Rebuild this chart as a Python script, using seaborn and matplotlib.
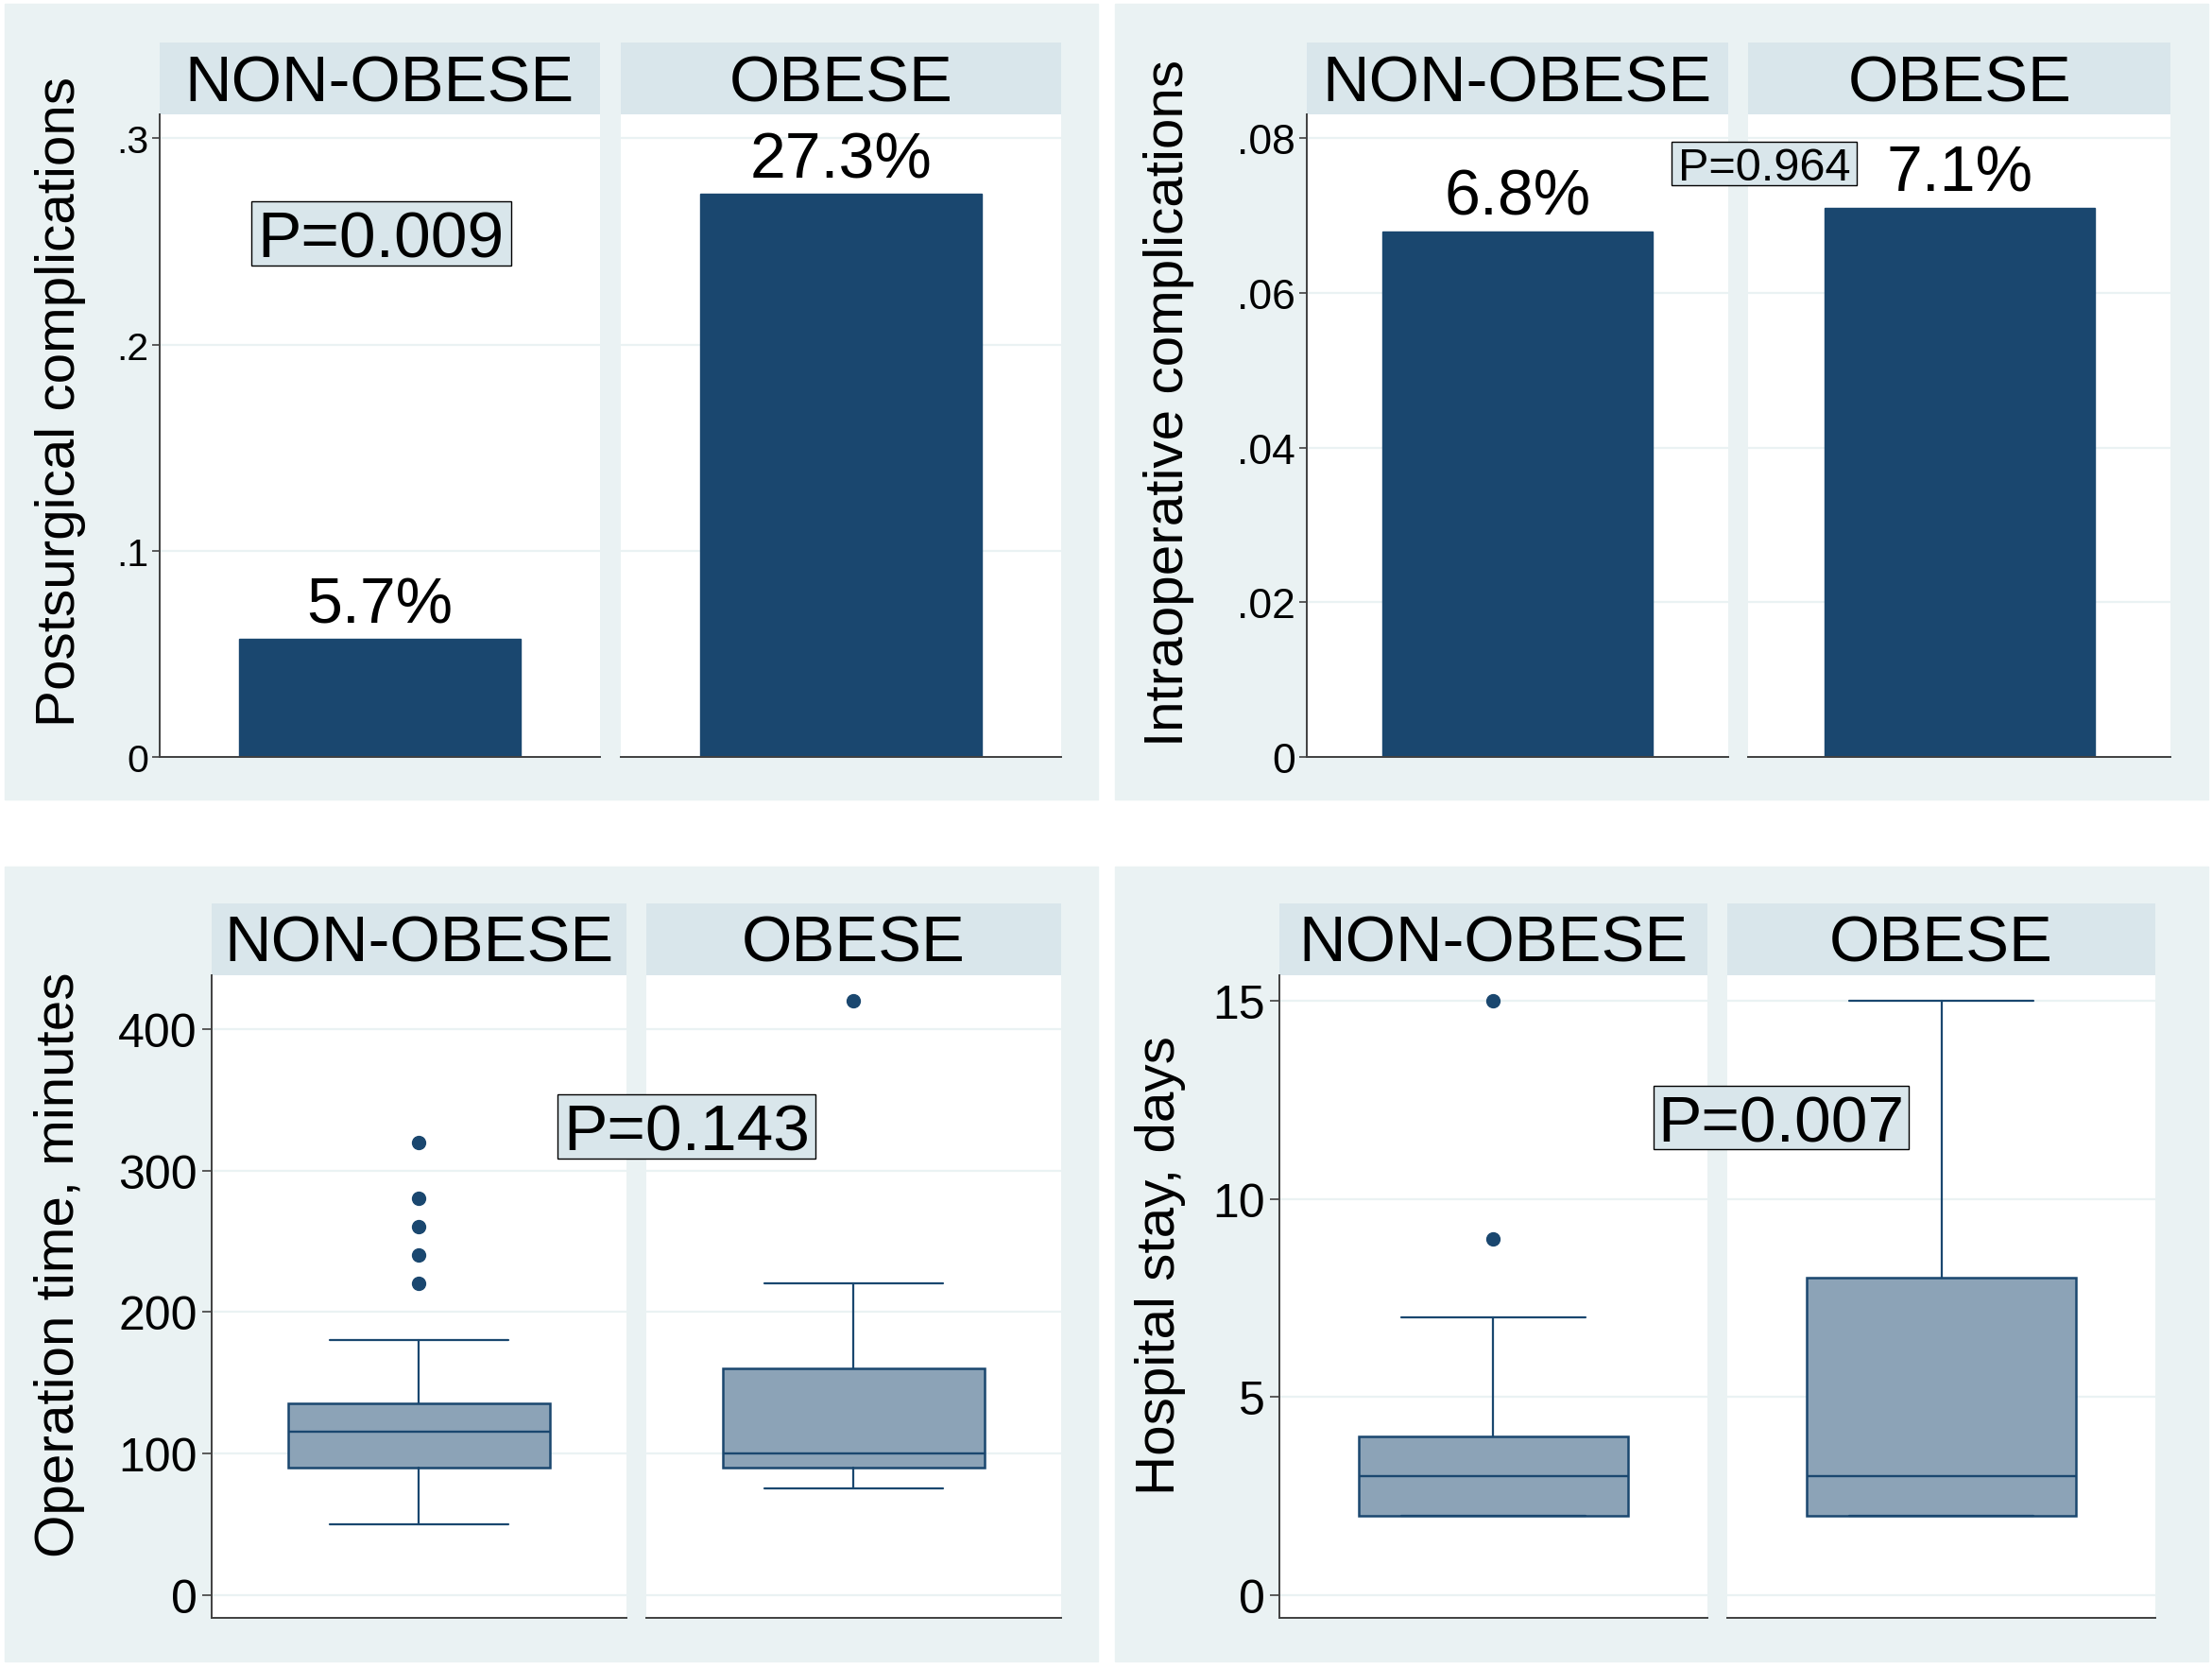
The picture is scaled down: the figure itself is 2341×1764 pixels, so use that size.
import matplotlib
matplotlib.use("Agg")
import matplotlib.pyplot as plt
import seaborn as sns
from matplotlib.patches import Rectangle
from matplotlib.ticker import FuncFormatter

# ---------------- data ----------------
groups = ["NON-OBESE", "OBESE"]

postsurg = [0.057, 0.273]
intraop = [0.068, 0.071]

# operation time (minutes): box plot summaries
op_q1 = [90, 90]
op_med = [115, 100]
op_q3 = [135, 160]
op_lo = [50, 75]
op_hi = [180, 220]
op_out = [[220, 240, 260, 280, 320], [420]]

# hospital stay (days)
hs_q1 = [2, 2]
hs_med = [3, 3]
hs_q3 = [4, 8]
hs_lo = [2, 2]
hs_hi = [7, 15]
hs_out = [[9, 15], []]

p_values = ["P=0.009", "P=0.964", "P=0.143", "P=0.007"]
ylabels = ["Postsurgical complications", "Intraoperative complications",
           "Operation time, minutes", "Hospital stay, days"]
ticks_post = [0, .1, .2, .3]
ticks_intra = [0, .02, .04, .06, .08]
ticks_op = [0, 100, 200, 300, 400]
ticks_hs = [0, 5, 10, 15]

# ---------------- style ----------------
navy = "#1A476F"
boxfill = "#8CA3B7"
bg = "#EAF2F3"
strip_col = "#D9E6EB"
grid_col = "#EAF2F3"

sns.set_style("white")
plt.rcParams['font.family'] = ['Liberation Sans', 'DejaVu Sans']
plt.rcParams['text.color'] = 'black'
plt.rcParams['ytick.labelcolor'] = 'black'

W, H = 2341, 1765
fig = plt.figure(figsize=(W / 100, H / 100), dpi=100)


def fig_rect(x0, y0, x1, y1, **kw):
    fig.add_artist(Rectangle((x0 / W, 1 - y1 / H), (x1 - x0) / W, (y1 - y0) / H,
                             transform=fig.transFigure, **kw))


def px_axes(x0, y0, x1, y1):
    return fig.add_axes([x0 / W, 1 - y1 / H, (x1 - x0) / W, (y1 - y0) / H])


def short_fmt(v, _):
    if v == 0:
        return "0"
    return ("%g" % v).lstrip("0")


# panel backgrounds
for (x0, y0, x1, y1) in [(4.5, 4.5, 1161.6, 846.5), (1179.5, 4.5, 2336.5, 846.5),
                         (4.5, 918, 1161.6, 1759), (1179.5, 918, 2336.5, 1759)]:
    fig_rect(x0, y0, x1, y1, color=bg, zorder=0)


def make_facets(x0, x1, strip_top, strip_bot, ax_bot, ylim, ticks, tick_size,
                fmt=None, tick_len=5.5, tick_pad=3):
    facet = (x1 - x0) / 2.048
    gap = (x1 - x0) - 2 * facet
    axes = []
    for i, g in enumerate(groups):
        fx0 = x0 + i * (facet + gap)
        fx1 = fx0 + facet
        # strip
        sax = px_axes(fx0, strip_top, fx1, strip_bot)
        sax.set_facecolor(strip_col)
        sax.set_xticks([])
        sax.set_yticks([])
        for s in sax.spines.values():
            s.set_visible(False)
        sax.text(0.5, 0.2, g, ha="center", va="baseline", fontsize=49.5,
                 transform=sax.transAxes)
        ax = px_axes(fx0, strip_bot, fx1, ax_bot)
        ax.set_facecolor("white")
        ax.set_ylim(*ylim)
        ax.set_yticks(ticks)
        if fmt is not None:
            ax.yaxis.set_major_formatter(FuncFormatter(fmt))
        ax.yaxis.grid(True, color=grid_col, lw=1.6)
        ax.set_axisbelow(True)
        for s in ["top", "right"]:
            ax.spines[s].set_visible(False)
        ax.spines["bottom"].set_color("#404040")
        ax.spines["bottom"].set_linewidth(1.4)
        ax.tick_params(axis="x", bottom=False, labelbottom=False)
        if i == 0:
            ax.spines["left"].set_color("#404040")
            ax.spines["left"].set_linewidth(1.4)
            ax.tick_params(axis="y", left=True, length=tick_len, width=1.2,
                           color="#404040", labelcolor="black",
                           labelsize=tick_size, pad=tick_pad)
        else:
            ax.spines["left"].set_visible(False)
            ax.tick_params(axis="y", left=False, labelleft=False)
        axes.append(ax)
    return axes


def bar_facets(axes, values):
    for ax, g, v in zip(axes, groups, values):
        sns.barplot(x=[g], y=[v], ax=ax, color=navy, saturation=1, width=0.64,
                    edgecolor=navy, errorbar=None)
        ax.set_xlim(-0.5, 0.5)
        ax.set_xlabel("")
        ax.set_ylabel("")
        ax.annotate(f"{v * 100:.1f}%", (0, v), xytext=(0, 13),
                    textcoords="offset points", ha="center", va="baseline",
                    fontsize=49)


def box_facets(axes, q1, med, q3, lo, hi, out):
    for i, ax in enumerate(axes):
        st = dict(q1=q1[i], med=med[i], q3=q3[i], whislo=lo[i], whishi=hi[i],
                  fliers=out[i])
        ax.bxp([st], positions=[0], widths=0.63, capwidths=0.43,
               patch_artist=True, showfliers=True,
               boxprops=dict(facecolor=boxfill, edgecolor=navy, lw=1.8),
               medianprops=dict(color=navy, lw=1.7),
               whiskerprops=dict(color=navy, lw=1.6),
               capprops=dict(color=navy, lw=1.6),
               flierprops=dict(marker="o", markerfacecolor=navy,
                               markeredgecolor=navy, markersize=10))
        ax.set_xlim(-0.5, 0.5)
        ax.set_xticks([])


# ---- top-left: postsurgical complications
tl = make_facets(168.7, 1122.7, 46, 122.4, 801.7, (0, 0.3115), ticks_post, 29.5, short_fmt)
bar_facets(tl, postsurg)

# ---- top-right: intraoperative complications
tr = make_facets(1382.5, 2297, 46, 122.4, 801.7, (0, 0.08306), ticks_intra, 32, short_fmt)
bar_facets(tr, intraop)

# ---- bottom-left: operation time
bl = make_facets(224, 1122.7, 957, 1033, 1712.5, (-16, 438), ticks_op, 36,
                 tick_len=7.5, tick_pad=3.5)
box_facets(bl, op_q1, op_med, op_q3, op_lo, op_hi, op_out)

# ---- bottom-right: hospital stay
br = make_facets(1354, 2281, 957, 1033, 1712.5, (-0.57, 15.65), ticks_hs, 36,
                 tick_len=7.5, tick_pad=3.5)
box_facets(br, hs_q1, hs_med, hs_q3, hs_lo, hs_hi, hs_out)

# y axis titles
for (x, y), lab in zip([(64.5, 425.5), (1237.5, 427), (63, 1338.5), (1228, 1339)], ylabels):
    fig.text(x / W, 1 - y / H, lab, rotation=90, ha="center", va="center", fontsize=42)

# p-value boxes
for (x0, y0, x1, y1), txt, fs in zip(
        [(265.7, 213.5, 540.5, 282.2), (1769, 150.8, 1965, 197),
         (589.7, 1158.6, 863, 1227.3), (1749.8, 1149.6, 2020, 1216.8)],
        p_values, [50, 35, 50, 50]):
    fig_rect(x0, y0, x1, y1, facecolor=strip_col, edgecolor="black", lw=1.0, zorder=5)
    cap = fs * 100 / 72 * 0.716
    base = y1 - ((y1 - y0) - cap) / 2
    fig.text((x0 + x1) / 2 / W, 1 - base / H, txt, ha="center", va="baseline",
             fontsize=fs, zorder=6)

fig.savefig("out.png", dpi=100)
